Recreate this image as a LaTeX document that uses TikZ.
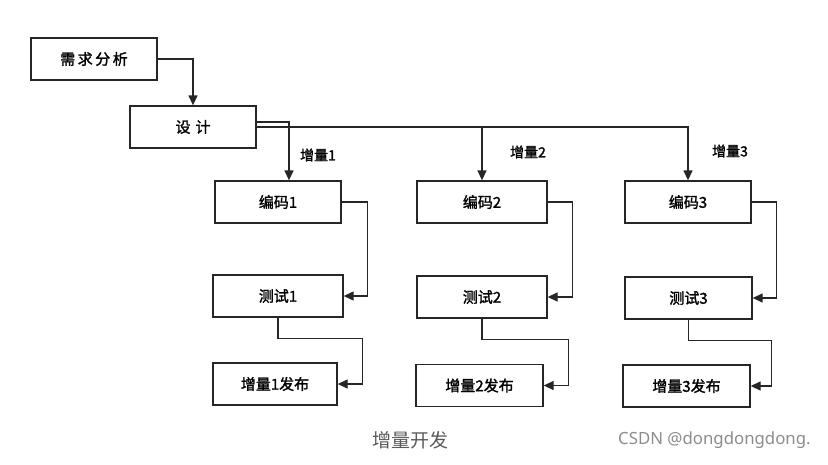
\documentclass[tikz,border=0pt]{standalone}
\usepackage{fontspec}
\setmainfont{Noto Sans CJK SC}
\newfontfamily\cjk{Noto Sans CJK SC}[FakeBold=1.6]
\newfontfamily\cjkr{Noto Sans CJK SC}
\newfontfamily\wm{Noto Sans}
\usetikzlibrary{arrows.meta}
\begin{document}
\begin{tikzpicture}[x=1pt,y=-1pt,
  box/.style={draw=black!85,line width=1.3pt,minimum width=126pt,minimum height=42pt,inner sep=0pt,font=\cjk\fontsize{15}{15}\selectfont},
  lab/.style={font=\cjk\fontsize{14}{14}\selectfont,inner sep=0pt},
  conn/.style={draw=black!85,line width=1.3pt,-{Triangle[length=10pt,width=9pt]}}]
\useasboundingbox (0,0) rectangle (828,464);
\node[box] (req) at (94,59) {需\,求\,分\,析};
\node[box] (des) at (193,127) {设\,\,计};
\node[box] (c1) at (278,202) {编码1};
\node[box,minimum width=130pt] (t1) at (278,296) {测试1};
\node[box,minimum width=124pt] (r1) at (275,384) {增量1发布};
\node[box,minimum width=130pt] (c2) at (482,202) {编码2};
\node[box,minimum width=130pt] (t2) at (482,297) {测试2};
\node[box,minimum width=127pt] (r2) at (479.5,385.5) {增量2发布};
\node[box] (c3) at (688,202) {编码3};
\node[box,minimum width=127pt] (t3) at (688.5,298) {测试3};
\node[box,minimum width=127pt] (r3) at (686.5,386) {增量3发布};
\node[lab] (l1) at (318,155) {增量1};
\node[lab] (l2) at (528,152) {增量2};
\node[lab] (l3) at (730,151) {增量3};
\node[font=\cjkr\fontsize{19}{19}\selectfont,text=black!65,inner sep=0pt] (cap) at (410,440) {增量开发};
\node[font=\wm\fontsize{16.8}{16.8}\selectfont,text=black!45,inner sep=0pt,anchor=west] (wm) at (618,440) {CSDN @dongdongdong.};
% connectors
\draw[conn] (req.east) -| (des.north);
\draw[conn] (des.east) -| (c3.north);
\draw[conn] (c2.north |- des.east) -- (c2.north);
\draw[conn] ([yshift=5pt]des.east) -| ([xshift=11pt]c1.north);
\draw[conn] (c1.east) -- ++(26,0) |- (t1.east);
\draw[conn] (c2.east) -- ++(25,0) |- (t2.east);
\draw[conn] (c3.east) -- ++(25,0) |- (t3.east);
\draw[conn] (t1.south) -- ++(0,21) -| ([xshift=25pt]r1.east) -- (r1.east);
\draw[conn] (t2.south) -- ++(0,21) -| ([xshift=25pt]r2.east) -- (r2.east);
\draw[conn] (t3.south) -- ++(0,21) -| ([xshift=21pt]r3.east) -- (r3.east);
\end{tikzpicture}
\end{document}
